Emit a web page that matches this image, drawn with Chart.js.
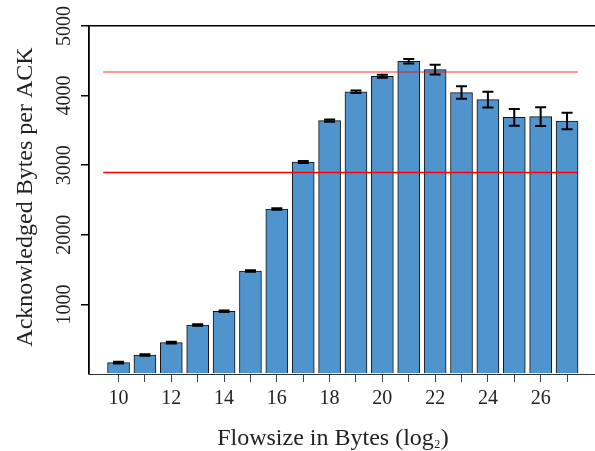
<!DOCTYPE html>
<html>
<head>
<meta charset="utf-8">
<script src="https://cdn.jsdelivr.net/npm/chart.js@4.4.1/dist/chart.umd.min.js"></script>
<style>
  html, body { margin: 0; padding: 0; background: #fff; }
</style>
</head>
<body>
<canvas id="myChart" width="595" height="451"></canvas>
<script>
// flow size (log2 bytes) and mean acknowledged bytes per ACK
const flowsizes = [10, 11, 12, 13, 14, 15, 16, 17, 18, 19, 20, 21, 22, 23, 24, 25, 26, 27];
const ackBytes = [164, 273, 451, 704, 901, 1480, 2371, 3046, 3641, 4055, 4277, 4494, 4374, 4043, 3942, 3688, 3698, 3635];
const ackErrors = [12, 10, 12, 10, 10, 12, 12, 15, 15, 18, 22, 33, 70, 90, 112, 120, 134, 120];
const xTickLabels = ['10', '12', '14', '16', '18', '20', '22', '24', '26'];
const yTicks = [1000, 2000, 3000, 4000, 5000];
// horizontal reference levels and the x range they cover
const refLevels = [4339, 2894];
const refColors = ['rgba(255, 0, 0, 0.55)', 'rgba(255, 0, 0, 1)'];
const refSpan = [9.42, 27.41];

const serif = "'Liberation Serif', 'DejaVu Serif', serif";

const errorBars = {
    id: 'errorBars',
    afterDatasetsDraw(chart) {
        const meta = chart.getDatasetMeta(0);
        const y = chart.scales.y;
        const c = chart.ctx;
        c.save();
        c.strokeStyle = '#000';
        c.lineWidth = 2;
        meta.data.forEach((bar, i) => {
            const top = y.getPixelForValue(ackBytes[i] + ackErrors[i]);
            const bot = y.getPixelForValue(ackBytes[i] - ackErrors[i]);
            c.beginPath();
            c.moveTo(bar.x, top); c.lineTo(bar.x, bot);
            c.moveTo(bar.x - 5.5, top); c.lineTo(bar.x + 5.5, top);
            c.moveTo(bar.x - 5.5, bot); c.lineTo(bar.x + 5.5, bot);
            c.stroke();
        });
        c.restore();
    }
};

const axisText = {
    id: 'axisText',
    afterDraw(chart) {
        const c = chart.ctx;
        const y = chart.scales.y;
        c.save();
        c.fillStyle = '#222';
        c.textAlign = 'center';
        c.textBaseline = 'alphabetic';
        c.font = '20px ' + serif;
        yTicks.forEach(v => {
            c.save();
            c.translate(70, y.getPixelForValue(v));
            c.rotate(-Math.PI / 2);
            c.fillText(String(v), 0, 0);
            c.restore();
        });
        c.font = '24px ' + serif;
        c.save();
        c.translate(32, 197);
        c.rotate(-Math.PI / 2);
        c.fillText('Acknowledged Bytes per ACK', 0, 0);
        c.restore();

        // x title with a small subscript 2
        const main = 'Flowsize in Bytes (log';
        const big = '24px ' + serif, small = '12px ' + serif;
        c.font = big;
        const w1 = c.measureText(main).width;
        const w3 = c.measureText(')').width;
        c.font = small;
        const w2 = c.measureText('2').width + 1;
        let x = 333 - (w1 + w2 + w3) / 2;
        c.textAlign = 'left';
        c.font = big;
        c.fillText(main, x, 445);
        c.font = small;
        c.fillText('2', x + w1 + 0.5, 448);
        c.font = big;
        c.fillText(')', x + w1 + w2, 445);
        c.restore();
    }
};

const ctx = document.getElementById('myChart').getContext('2d');

const datasets = [{
    type: 'bar',
    data: flowsizes.map((f, i) => ({ x: f, y: ackBytes[i] })),
    backgroundColor: '#4F94CD',
    borderColor: '#111',
    borderWidth: 1,
    barThickness: 22,
    order: 2
}];
refLevels.forEach((lvl, i) => {
    datasets.push({
        type: 'line',
        data: [{ x: refSpan[0], y: lvl }, { x: refSpan[1], y: lvl }],
        borderColor: refColors[i],
        borderWidth: 1.5,
        pointRadius: 0,
        order: 1
    });
});

new Chart(ctx, {
    type: 'bar',
    data: { datasets: datasets },
    options: {
        responsive: false,
        animation: false,
        devicePixelRatio: 1,
        layout: { padding: { top: 26, left: 0, right: 0, bottom: 0 } },
        plugins: { legend: { display: false }, tooltip: { enabled: false } },
        scales: {
            x: {
                type: 'linear',
                min: 8.88,
                max: 28.06,
                offset: false,
                afterBuildTicks: scale => { scale.ticks = flowsizes.map(v => ({ value: v })); },
                afterFit: scale => { scale.height = 77; },
                ticks: {
                    autoSkip: false,
                    maxRotation: 0,
                    padding: 5,
                    color: '#222',
                    font: { family: serif, size: 20 },
                    callback: v => xTickLabels.includes(String(v)) ? String(v) : ''
                },
                grid: {
                    offset: false,
                    drawOnChartArea: false,
                    drawTicks: true,
                    tickLength: 8,
                    tickColor: '#444',
                    tickWidth: 1
                },
                border: { display: true, color: '#333', width: 1 }
            },
            y: {
                min: 0,
                max: 5000,
                afterBuildTicks: scale => { scale.ticks = [0].concat(yTicks).map(v => ({ value: v })); },
                afterFit: scale => { scale.width = 89; },
                ticks: { display: false },
                grid: {
                    drawOnChartArea: true,
                    drawTicks: true,
                    tickLength: 8,
                    lineWidth: 1.5,
                    color: c => (c.tick && c.tick.value === 5000) ? '#000' : 'rgba(0,0,0,0)',
                    tickColor: c => (c.tick && c.tick.value === 0) ? 'rgba(0,0,0,0)' : '#000'
                },
                border: { display: true, color: '#000', width: 1.8 }
            }
        }
    },
    plugins: [errorBars, axisText]
});
</script>
</body>
</html>
